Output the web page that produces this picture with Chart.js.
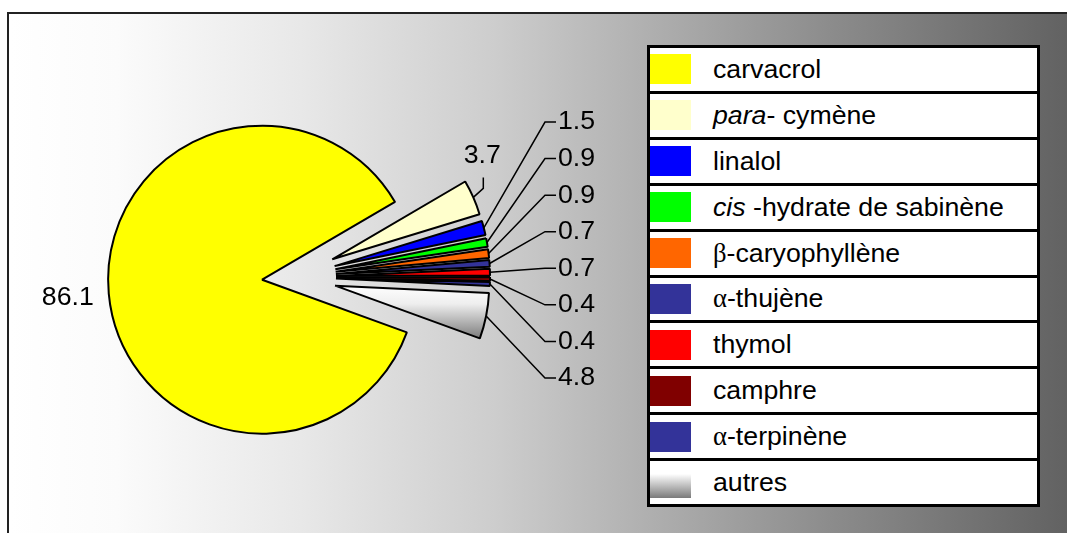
<!DOCTYPE html>
<html>
<head>
<meta charset="utf-8">
<script src="https://cdn.jsdelivr.net/npm/chart.js@4.4.0/dist/chart.umd.min.js"></script>
<style>
  html, body { margin: 0; padding: 0; background: #fff; }
  body { width: 1067px; height: 533px; overflow: hidden; position: relative; font-family: "Liberation Sans", Arial, sans-serif; }
  #frame {
    position: absolute; left: 7px; top: 12px; width: 1080px; height: 540px;
    border-left: 2px solid #222; border-top: 2px solid #222;
    background: linear-gradient(to right, #ffffff 0%, #fbfbfb 10%, #e8e8e8 27%, #cdcdcd 45%, #b2b2b2 58%, #8c8c8c 76%, #5e5e5e 100%);
  }
  #pie { position: absolute; left: 0; top: 0; }
  #legend {
    position: absolute; left: 647px; top: 45px; width: 393px; height: 462px;
    box-sizing: border-box; border: 3px solid #000; background: #fff;
    display: flex; flex-direction: column;
  }
  .row { flex: 1; display: flex; align-items: center; border-top: 3px solid #000; }
  .row:first-child { border-top: none; }
  .swatch { width: 41px; height: 30px; flex: none; }
  .name { margin-left: 22px; font-size: 26.7px; color: #000; white-space: nowrap; }
  .greek { font-family: "Liberation Serif", "DejaVu Serif", serif; }
</style>
</head>
<body>
<div id="frame"></div>
<canvas id="pie" width="1067" height="533"></canvas>
<div id="legend"></div>
<script>
// composition of the essential oil, in %
const categories = ['carvacrol', 'para-cymène', 'linalol', 'cis-hydrate de sabinène', 'β-caryophyllène',
                    'α-thujène', 'thymol', 'camphre', 'α-terpinène', 'autres'];
const percentages = [86.1, 3.7, 1.5, 0.9, 0.9, 0.7, 0.7, 0.4, 0.4, 4.8];
const sliceColors = ['#ffff00', '#ffffcc', '#0000ff', '#00ff00', '#ff6600',
                     '#333399', '#ff0000', '#800000', '#333399', null];

// how far each slice is pulled out of the pie (px)
const explode = [30, 44, 44, 44, 44, 44, 44, 44, 44, 44];

function othersFill(chart) {
    const area = chart.chartArea;
    if (!area) return '#dddddd';
    const cy = (area.top + area.bottom) / 2;
    const g = chart.ctx.createLinearGradient(0, cy + 8, 0, cy + 62);
    g.addColorStop(0, '#ffffff');
    g.addColorStop(0.35, '#eeeeee');
    g.addColorStop(1, '#7a7a7a');
    return g;
}

// move the slices away from the centre, along their bisector
const explodePlugin = {
    id: 'explode',
    afterDatasetUpdate(chart, args) {
        const meta = chart.getDatasetMeta(args.index);
        meta.data.forEach((arc, i) => {
            const d = explode[i] || 0;
            const mid = (arc.startAngle + arc.endAngle) / 2;
            arc.x += Math.cos(mid) * d;
            arc.y += Math.sin(mid) * d;
        });
    }
};

// value labels with leader lines
const labelPlugin = {
    id: 'sliceLabels',
    afterDatasetsDraw(chart) {
        const ctx = chart.ctx;
        const area = chart.chartArea;
        const cx = (area.left + area.right) / 2;
        const cy = (area.top + area.bottom) / 2;
        const meta = chart.getDatasetMeta(0);
        ctx.save();
        ctx.font = '26.7px "Liberation Sans", Arial, sans-serif';
        ctx.fillStyle = '#000';
        ctx.strokeStyle = '#000';
        ctx.lineWidth = 1.5;
        ctx.textBaseline = 'middle';

        const stacked = [];
        meta.data.forEach((arc, i) => {
            const mid = (arc.startAngle + arc.endAngle) / 2;
            const r = arc.outerRadius;
            const ax = arc.x + Math.cos(mid) * r;
            const ay = arc.y + Math.sin(mid) * r;
            const text = percentages[i].toFixed(1);
            if (i === 0) {
                ctx.textAlign = Math.cos(mid) < 0 ? 'right' : 'left';
                ctx.fillText(text, arc.x + Math.cos(mid) * (r + 15), arc.y + Math.sin(mid) * (r + 15) + 3);
            } else if (i === 1) {
                ctx.beginPath();
                ctx.moveTo(ax, ay);
                ctx.lineTo(ax + 10, ay - 9);
                ctx.lineTo(ax + 10, ay - 20);
                ctx.stroke();
                ctx.textAlign = 'center';
                ctx.fillText(text, ax + 9, ay - 42);
            } else {
                stacked.push({ ax, ay, text });
            }
        });

        const top = cy - 155, bottom = cy + 101;
        const step = (bottom - top) / (stacked.length - 1);
        const tx = cx + 266;
        ctx.textAlign = 'left';
        stacked.forEach((s, k) => {
            const ly = top + k * step;
            ctx.beginPath();
            ctx.moveTo(s.ax, s.ay);
            ctx.lineTo(tx - 13, ly);
            ctx.lineTo(tx - 2, ly);
            ctx.stroke();
            ctx.fillText(s.text, tx, ly);
        });
        ctx.restore();
    }
};

new Chart(document.getElementById('pie'), {
    type: 'pie',
    data: {
        labels: categories,
        datasets: [{
            data: percentages,
            backgroundColor: (c) => {
                if (c.dataIndex === undefined) return '#ffffff';
                return sliceColors[c.dataIndex] || othersFill(c.chart);
            },
            borderColor: '#000',
            borderWidth: 2
        }]
    },
    options: {
        responsive: false,
        animation: false,
        events: [],
        rotation: 110,
        radius: 154,
        layout: { padding: { top: 21, right: 483 } },
        plugins: {
            legend: { display: false },
            tooltip: { enabled: false }
        }
    },
    plugins: [explodePlugin, labelPlugin]
});

// legend table on the right
function formatLabel(name) {
    return name
        .replace(/^para-/, '<i>para</i>- ')
        .replace(/^cis-/, '<i>cis</i> -')
        .replace(/([αβ])/g, '<span class="greek">$1</span>');
}

const legendEl = document.getElementById('legend');
categories.forEach((name, i) => {
    const row = document.createElement('div');
    row.className = 'row';
    const sw = document.createElement('span');
    sw.className = 'swatch';
    sw.style.background = sliceColors[i] || 'linear-gradient(#ffffff 20%, #7a7a7a)';
    const label = document.createElement('span');
    label.className = 'name';
    label.innerHTML = formatLabel(name);
    row.append(sw, label);
    legendEl.append(row);
});
</script>
</body>
</html>
